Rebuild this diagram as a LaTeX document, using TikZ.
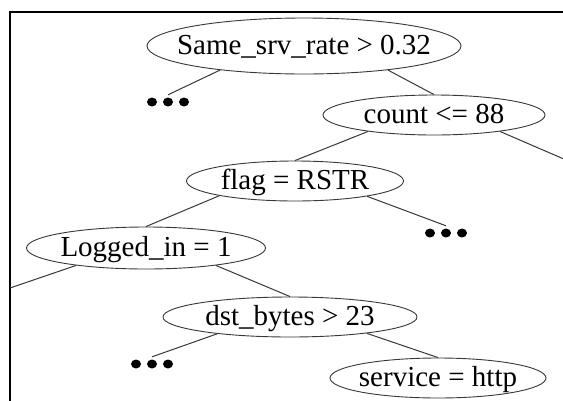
\documentclass[tikz,border=0pt]{standalone}
\usepackage{fontspec}
\setmainfont{Liberation Serif}
\usetikzlibrary{shapes}
\definecolor{TreeGray}{RGB}{56,56,56}

\newcommand{\lbl}[1]{\makebox[0pt]{#1}} % text does not widen the ellipse

\begin{document}
\begin{tikzpicture}[x=1pt, y=-1pt,
  splitnode/.style={ellipse, draw=TreeGray, line width=0.9pt, inner sep=0pt, text height=19pt, text depth=3pt, font=\fontsize{29}{34}\selectfont},
  dotsnode/.style={minimum width=48pt, minimum height=14pt, inner sep=0pt,
    path picture={\foreach \d in {-16,0,16} \fill ([xshift=\d pt]path picture bounding box.center) ellipse (5pt and 4.5pt);}},
  branch/.style={draw=TreeGray, line width=1pt}]
\pgfmathsetmacro{\xl}{10} % left frame line
\pgfmathsetmacro{\yt}{12} % top frame line

\useasboundingbox (0,0) rectangle (563,400);
\fill[white] (0,0) rectangle (563,400); % background

\draw[line width=2.4pt] (\xl,410) -- (\xl,\yt) -- (570,\yt); % frame (cut off right and bottom)

\node[splitnode, minimum width=314pt, minimum height=56pt] (srvrate) at (304,46) {\lbl{Same\_srv\_rate > 0.32}};
\node[dotsnode] (dotsA) at (168,102) {};
\node[splitnode, minimum width=222pt, minimum height=40pt] (count) at (434,115) {\lbl{count <= 88}};
\node[splitnode, minimum width=217pt, minimum height=40pt] (flag) at (295,181) {\lbl{flag = RSTR}};
\node[dotsnode] (dotsB) at (446,233) {};
\node[splitnode, minimum width=239pt, minimum height=42pt] (loggedin) at (146,248) {\lbl{Logged\_in = 1}};
\node[splitnode, minimum width=254pt, minimum height=40pt] (dstbytes) at (290,317) {\lbl{dst\_bytes > 23}};
\node[dotsnode] (dotsC) at (152,364) {};
\node[splitnode, minimum width=216pt, minimum height=40pt] (service) at (438,378) {\lbl{service = http}};

\coordinate (offright) at (580,166); % branch leaving the picture
\coordinate (offleft) at (\xl,288); % branch ending at the frame

\draw[branch] (srvrate.196) -- (dotsA.north);
\draw[branch] (srvrate.-16) -- (count.north);
\draw[branch] (count.194) -- (flag.north);
\draw[branch] (count.-14) -- (offright);
\draw[branch] (flag.-12) -- (dotsB.north);
\draw[branch] (flag.191) -- (loggedin.north);
\draw[branch] (loggedin.194) -- (offleft);
\draw[branch] (loggedin.-14) -- (dstbytes.north);
\draw[branch] (dstbytes.193) -- (dotsC.north);
\draw[branch] (dstbytes.-12) -- (service.north);

\end{tikzpicture}
\end{document}
